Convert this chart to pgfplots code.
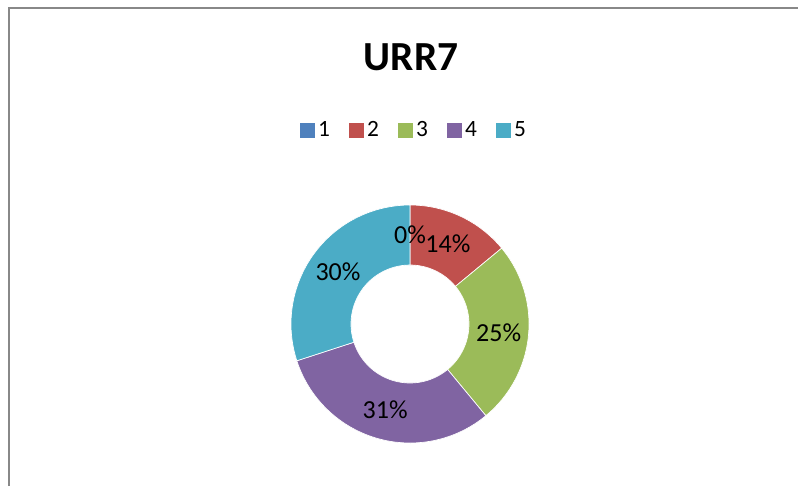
\documentclass[border=0pt]{standalone}
\usepackage{fontspec}
\setmainfont{Carlito}
\usepackage{pgfplots}
\usepackage{pgfplotstable}
\pgfplotsset{compat=1.18}

\definecolor{c1}{HTML}{4F81BD}
\definecolor{c2}{HTML}{C0504D}
\definecolor{c3}{HTML}{9BBB59}
\definecolor{c4}{HTML}{8064A2}
\definecolor{c5}{HTML}{4BACC6}
\definecolor{framegray}{HTML}{888888}

% share of answers per rating, in percent
\pgfplotstableread{
rating value
1 0
2 14
3 25
4 31
5 30
}\datatable

\begin{document}
\begin{tikzpicture}
\begin{axis}[
    width=598.5pt, height=364.5pt, scale only axis,
    xmin=0, xmax=798, ymin=0, ymax=486, y dir=reverse,
    hide axis, clip=false,
    legend columns=5,
    legend style={draw=none, fill=none, font=\fontsize{17.5}{20}\selectfont,
        at={(0.519,0.7325)}, anchor=center,
        /tikz/every odd column/.append style={column sep=1pt},
        /tikz/every even column/.append style={column sep=12pt}},
    legend image code/.code={\fill[#1] (0pt,-5.25pt) rectangle (10.5pt,5.25pt);},
]
\addlegendimage{c1}\addlegendentry{1}
\addlegendimage{c2}\addlegendentry{2}
\addlegendimage{c3}\addlegendentry{3}
\addlegendimage{c4}\addlegendentry{4}
\addlegendimage{c5}\addlegendentry{5}

% chart border (cut off at right and bottom)
\draw[framegray, line width=1.5pt] (axis cs:9,486) -- (axis cs:9,8) -- (axis cs:798,8);

\node[font=\fontsize{31}{36}\selectfont\bfseries] at (axis cs:411,57) {URR7};

% donut rings, clockwise from the top
\def\angA{90}
\pgfplotsinvokeforeach{0,...,4}{
    \pgfplotstablegetelem{#1}{value}\of\datatable
    \edef\val{\pgfplotsretval}
    \pgfmathsetmacro\angB{\angA-3.6*\val}
    \edef\temp{\noexpand\fill[c\the\numexpr#1+1\relax, draw=white, line width=0.5pt]
        (axis cs:410,324) ++(\angA:89.25pt)
        arc[start angle=\angA, end angle=\angB, radius=89.25pt]
        -- ++(\angB+180:45pt)
        arc[start angle=\angB, end angle=\angA, radius=44.25pt] -- cycle;}
    \temp
    \global\let\angA\angB
}
% percentage labels on top of all rings
\def\angA{90}
\pgfplotsinvokeforeach{0,...,4}{
    \pgfplotstablegetelem{#1}{value}\of\datatable
    \edef\val{\pgfplotsretval}
    \pgfmathsetmacro\angB{\angA-3.6*\val}
    \pgfmathsetmacro\angM{(\angA+\angB)/2}
    \edef\temp{\noexpand\path (axis cs:410,324) ++(\angM:66.75pt)
        node[font=\noexpand\fontsize{19.5}{22}\noexpand\selectfont] {\val\noexpand\%};}
    \temp
    \global\let\angA\angB
}
\end{axis}
\pgfresetboundingbox
\path[use as bounding box] (current axis.south west) rectangle (current axis.north east);
\end{tikzpicture}
\end{document}
